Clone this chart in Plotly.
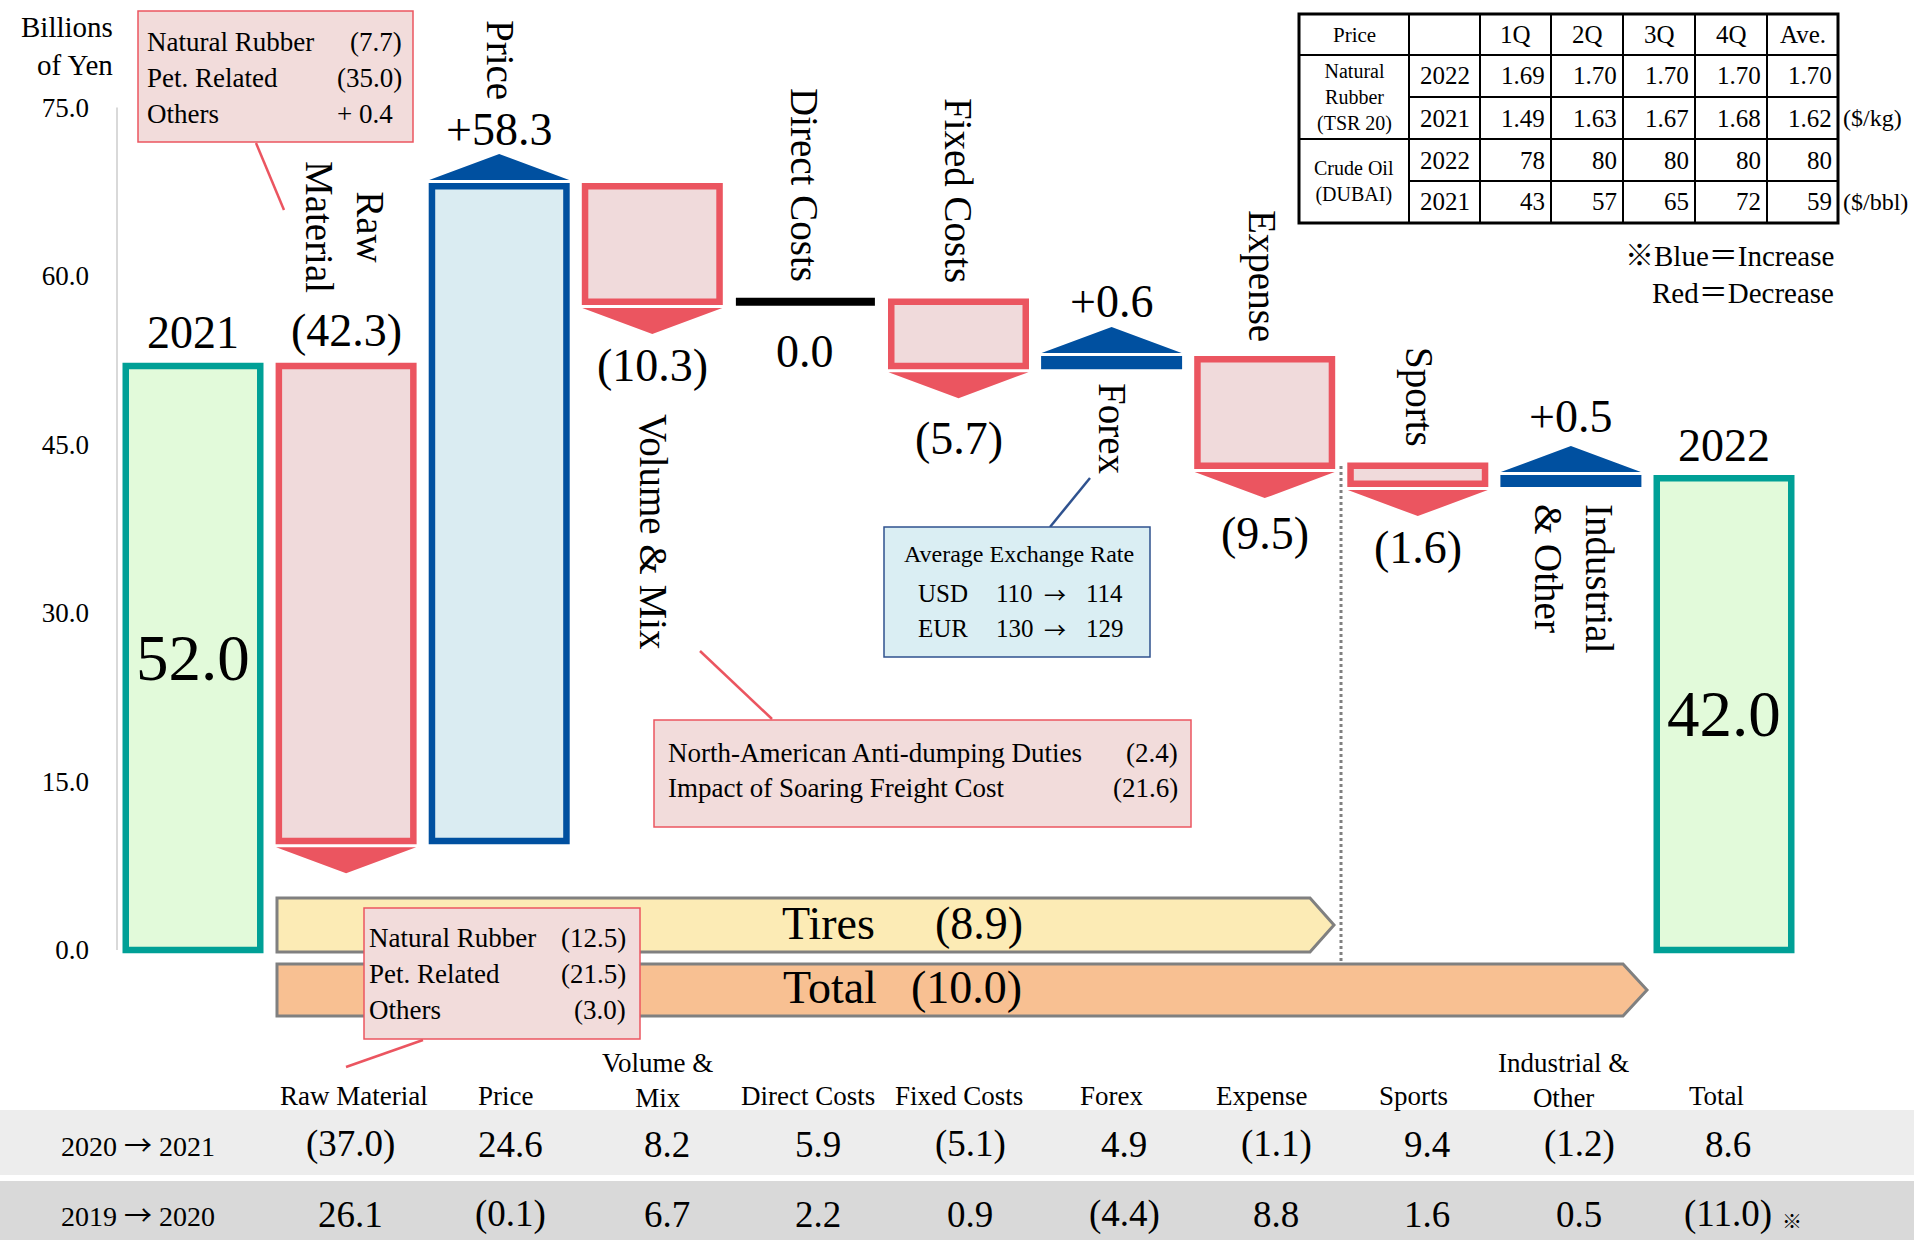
import plotly.graph_objects as go

W, H = 1914, 1240
FONT = "Liberation Serif, Times New Roman, Noto Sans CJK JP, serif"
ARROW_FONT = "Noto Sans CJK JP, Liberation Serif, serif"
ARROW = '<span style="font-family:Noto Sans CJK JP">→</span>'

# ---------------- data ----------------
categories = ["2021", "Raw Material", "Price", "Volume & Mix", "Direct Costs",
              "Fixed Costs", "Forex", "Expense", "Sports", "Industrial & Other", "2022"]
start_value = 52.0
changes = [-42.3, 58.3, -10.3, 0.0, -5.7, 0.6, -9.5, -1.6, 0.5]
tire_items = 7  # Raw Material .. Expense belong to the tire business

table_cols = ["Raw Material", "Price", "Volume &<br>Mix", "Direct Costs", "Fixed Costs",
              "Forex", "Expense", "Sports", "Industrial &<br>Other", "Total"]
row_labels = [("2020", "2021"), ("2019", "2020")]
row_2021 = [-37.0, 24.6, 8.2, 5.9, -5.1, 4.9, -1.1, 9.4, -1.2, 8.6]
row_2020 = [26.1, -0.1, 6.7, 2.2, 0.9, -4.4, 8.8, 1.6, 0.5, -11.0]

price_quarters = ["1Q", "2Q", "3Q", "4Q", "Ave."]
rubber_2022 = [1.69, 1.70, 1.70, 1.70, 1.70]
rubber_2021 = [1.49, 1.63, 1.67, 1.68, 1.62]
oil_2022 = [78, 80, 80, 80, 80]
oil_2021 = [43, 57, 65, 72, 59]

raw_items = ["Natural Rubber", "Pet. Related", "Others"]
raw_this_year = [-7.7, -35.0, 0.4]
raw_last_year = [-12.5, -21.5, -3.0]
volume_items = ["North-American Anti-dumping Duties", "Impact of Soaring Freight Cost"]
volume_values = [-2.4, -21.6]
fx_currencies = ["USD", "EUR"]
fx_before = [110, 130]
fx_after = [114, 129]

# ---------------- styling ----------------
RED, RED_FILL = "#EB5560", "#F0DADB"
BLUE, BLUE_FILL = "#0050A0", "#DAECF2"
TEAL, GREEN_FILL = "#00A096", "#E2FADA"
CALLOUT_FILL = "#F2DCDB"

X_CENTER0, X_STEP = 193.0, 153.1      # pixel centre of first bar, spacing
Y_ZERO, Y_UNIT = 950.0, 11.233         # pixel of 0.0, pixels per billion yen
BAR_W = 0.8785
LINE_W = 6.5

x_range = [-X_CENTER0 / X_STEP, (W - X_CENTER0) / X_STEP]
y_range = [-(H - Y_ZERO) / Y_UNIT, Y_ZERO / Y_UNIT]


def px(x):
    return x / W


def py(y):
    return 1 - y / H


def paren(v):
    return f"({abs(v):.1f})" if v < 0 else f"{v:.1f}"


def signed(v):
    if v < 0:
        return f"({abs(v):.1f})"
    if v > 0:
        return f"+{v:.1f}"
    return f"{v:.1f}"


# ---------------- waterfall levels ----------------
levels = [start_value]
for c in changes:
    levels.append(round(levels[-1] + c, 1))
end_value = levels[-1]
n = len(categories)

fig = go.Figure()

bx, bbase, bh, bfill, bline = [], [], [], [], []
for i in range(n):
    if i == 0 or i == n - 1:
        val = start_value if i == 0 else end_value
        bx.append(i); bbase.append(0); bh.append(val)
        bfill.append(GREEN_FILL); bline.append(TEAL)
        continue
    c = changes[i - 1]
    if c == 0:
        continue
    bx.append(i)
    bbase.append(min(levels[i - 1], levels[i]))
    bh.append(abs(c))
    edge = BLUE if c > 0 else RED
    light = BLUE_FILL if c > 0 else RED_FILL
    # bars thinner than their outline read as a solid band
    bfill.append(edge if abs(c) * Y_UNIT <= LINE_W + 1 else light)
    bline.append(edge)

fig.add_trace(go.Bar(x=bx, y=bh, base=bbase, width=BAR_W,
                     marker=dict(color=bfill, line=dict(color=bline, width=LINE_W)),
                     hoverinfo="skip"))

# flat marker for unchanged items
for i in range(1, n - 1):
    if changes[i - 1] == 0:
        fig.add_trace(go.Scatter(x=[i - 0.454, i + 0.454], y=[levels[i], levels[i]],
                                 mode="lines", line=dict(color="black", width=8),
                                 hoverinfo="skip"))

# direction arrows
half = 70.0 / X_STEP
gap = (LINE_W / 2 + 3) / Y_UNIT
tri_h = 26 / Y_UNIT
tri = {"up": ([], []), "down": ([], [])}
for i in range(1, n - 1):
    c = changes[i - 1]
    if c == 0:
        continue
    if c < 0:
        b = levels[i] - gap
        xs, ys = [i - half, i + half, i, i - half], [b, b, b - tri_h, b]
        key = "down"
    else:
        b = levels[i] + gap
        xs, ys = [i - half, i + half, i, i - half], [b, b, b + tri_h, b]
        key = "up"
    tri[key][0].extend(xs + [None])
    tri[key][1].extend(ys + [None])
for key, col in (("down", RED), ("up", BLUE)):
    fig.add_trace(go.Scatter(x=tri[key][0], y=tri[key][1], mode="lines", fill="toself",
                             fillcolor=col, line=dict(width=0, color=col), hoverinfo="skip"))

annotations = []
shapes = []


def text(x, y, s, size, xanchor="center", yanchor="middle", align="center",
         angle=0, color="black", family=FONT):
    annotations.append(dict(x=px(x), y=py(y), xref="paper", yref="paper", text=s,
                            showarrow=False, xanchor=xanchor, yanchor=yanchor,
                            align=align, textangle=angle,
                            font=dict(family=family, size=size, color=color)))


def line(x0, y0, x1, y1, color, width, dash="solid"):
    shapes.append(dict(type="line", xref="paper", yref="paper", x0=px(x0), y0=py(y0),
                       x1=px(x1), y1=py(y1), line=dict(color=color, width=width, dash=dash)))


def rect(x0, y0, x1, y1, fill, color, width):
    shapes.append(dict(type="rect", xref="paper", yref="paper", x0=px(x0), y0=py(y0),
                       x1=px(x1), y1=py(y1), fillcolor=fill,
                       line=dict(color=color, width=width)))


def poly(points, fill, color, width):
    path = "M " + " L ".join(f"{px(a):.5f},{py(b):.5f}" for a, b in points) + " Z"
    shapes.append(dict(type="path", xref="paper", yref="paper", path=path,
                       fillcolor=fill, line=dict(color=color, width=width)))


# ---------------- value labels on the waterfall ----------------
label_side = ["top", "top", "top", "bottom", "bottom", "bottom", "top", "bottom",
              "bottom", "top", "top"]
label_shift = [33, 35, 57, -64, -50, -73, 58, -68, -64, 62, 33]
for i in range(n):
    if i == 0:
        s, lv = categories[0], start_value
    elif i == n - 1:
        s, lv = categories[-1], end_value
    else:
        s = signed(changes[i - 1])
        pair = (levels[i - 1], levels[i])
        lv = max(pair) if label_side[i] == "top" else min(pair)
    annotations.append(dict(x=i, y=lv, xref="x", yref="y", text=s, showarrow=False,
                            yshift=label_shift[i], xanchor="center", yanchor="middle",
                            font=dict(family=FONT, size=46, color="black")))

for i, val in ((0, start_value), (n - 1, end_value)):
    annotations.append(dict(x=i, y=val / 2, xref="x", yref="y", text=f"{val:.1f}",
                            showarrow=False, xanchor="center", yanchor="middle",
                            font=dict(family=FONT, size=65, color="black")))

# rotated item names
rot_names = {1: "Raw<br>Material", 2: "Price", 3: "Volume & Mix", 4: "Direct Costs",
             5: "Fixed Costs", 6: "Forex", 7: "Expense", 8: "Sports",
             9: "Industrial<br>& Other"}
rot_pos = {1: (345, 227), 2: (500, 60), 3: (653, 532), 4: (804, 185), 5: (959, 191),
           6: (1113, 428), 7: (1262, 276), 8: (1419, 397), 9: (1574, 579)}
for i, s in rot_names.items():
    x, y = rot_pos[i]
    text(x, y, s, 39, angle=90, align="left" if i == 9 else "center")

# y-axis title and line
text(115, 46, "Billions<br>of Yen", 29, xanchor="right", align="right")
shapes.append(dict(type="line", xref="paper", yref="y", x0=px(117), x1=px(117),
                   y0=0, y1=75, line=dict(color="#D9D9D9", width=2)))

# ---------------- tires / total bands ----------------
tires_change = round(sum(changes[:tire_items]), 1)
total_change = round(end_value - start_value, 1)
poly([(277, 898), (1310, 898), (1334, 925), (1310, 952), (277, 952)], "#FCEBB5", "#808080", 3)
poly([(277, 964), (1623, 964), (1647, 990), (1623, 1016), (277, 1016)], "#F8C092", "#808080", 3)
text(828, 923, "Tires", 46)
text(979, 923, paren(tires_change), 46)
text(830, 987, "Total", 46)
text(967, 987, paren(total_change), 46)
line(1341, 466, 1341, 963, "#808080", 3, dash="dot")

# ---------------- callouts ----------------
# raw material, this year
line(256, 143, 284, 210, RED, 2.5)
rect(138, 11, 413, 142, CALLOUT_FILL, RED, 1.5)
for k, (name, v) in enumerate(zip(raw_items, raw_this_year)):
    y = 42 + 36 * k
    text(145, y, name, 27, xanchor="left")
    if v < 0:
        text(404, y, paren(v), 27, xanchor="right")
    else:
        text(395, y, f"+ {v:.1f}", 27, xanchor="right")

# volume & mix
line(700, 651, 772, 719, RED, 2.5)
rect(654, 720, 1191, 827, CALLOUT_FILL, RED, 1.5)
for k, (name, v) in enumerate(zip(volume_items, volume_values)):
    y = 753 + 35 * k
    text(666, y, name, 27, xanchor="left")
    text(1180, y, paren(v), 27, xanchor="right")

# forex
line(1090, 478, 1050, 527, "#2F528F", 2.5)
rect(884, 527, 1150, 657, "#DAEEF3", "#2F528F", 1.5)
text(1019, 554, "Average Exchange Rate", 24)
for k, (cur, a, b) in enumerate(zip(fx_currencies, fx_before, fx_after)):
    y = 593 + 35 * k
    text(916, y, cur, 25, xanchor="left")
    text(994, y, f"{a}", 25, xanchor="left")
    text(1055, y, "→", 22, family=ARROW_FONT)
    text(1084, y, f"{b}", 25, xanchor="left")

# raw material, previous year (drawn over the bands)
line(423, 1040, 346, 1067, RED, 2.5)
rect(364, 908, 640, 1039, CALLOUT_FILL, RED, 1.5)
for k, (name, v) in enumerate(zip(raw_items, raw_last_year)):
    y = 938 + 36 * k
    text(367, y, name, 27, xanchor="left")
    text(628, y, paren(v), 27, xanchor="right")

# ---------------- price table ----------------
col_x = [1299, 1409, 1480, 1551, 1623, 1695, 1767, 1838]
row_y = [14, 55, 97, 139, 181, 223]
for x in col_x[1:-1]:
    line(x, row_y[0], x, row_y[-1], "black", 2)
line(col_x[0], row_y[1], col_x[-1], row_y[1], "black", 2)
line(col_x[0], row_y[3], col_x[-1], row_y[3], "black", 2)
line(col_x[1], row_y[2], col_x[-1], row_y[2], "black", 2)
line(col_x[1], row_y[4], col_x[-1], row_y[4], "black", 2)
rect(col_x[0], row_y[0], col_x[-1], row_y[-1], "rgba(0,0,0,0)", "black", 3)

text((col_x[0] + col_x[1]) / 2, 35, "Price", 21)
for j, q in enumerate(price_quarters):
    text((col_x[j + 2] + col_x[j + 3]) / 2, 35, q, 25)
text((col_x[0] + col_x[1]) / 2, 98, "Natural<br>Rubber<br>(TSR 20)", 20)
text((col_x[0] + col_x[1]) / 2, 181, "Crude Oil<br>(DUBAI)", 20)
table_rows = [("2022", rubber_2022, "{:.2f}"), ("2021", rubber_2021, "{:.2f}"),
              ("2022", oil_2022, "{:d}"), ("2021", oil_2021, "{:d}")]
for r, (yr, vals, fmt) in enumerate(table_rows):
    yc = (row_y[r + 1] + row_y[r + 2]) / 2
    text((col_x[1] + col_x[2]) / 2, yc, yr, 25)
    for j, v in enumerate(vals):
        text(col_x[j + 3] - 4, yc, fmt.format(v), 25, xanchor="right")
text(1841, 118, "($/kg)", 24, xanchor="left")
text(1841, 202, "($/bbl)", 24, xanchor="left")

text(1836, 256, "※Blue＝Increase", 29, xanchor="right")
text(1836, 293, "Red＝Decrease", 29, xanchor="right")

# ---------------- prior-year comparison table ----------------
rect(0, 1110, W, 1175, "#EDEDED", "rgba(0,0,0,0)", 0)
rect(0, 1181, W, 1240, "#D9D9D9", "rgba(0,0,0,0)", 0)
head_x = [354, 505, 657, 808, 959, 1111, 1261, 1413, 1563, 1716]
val_x = [350, 510, 667, 818, 970, 1124, 1276, 1427, 1579, 1728]
for hx, lab in zip(head_x, table_cols):
    two = "<br>" in lab
    text(hx, 1080 if two else 1096, lab, 27)
for ry, (y_from, y_to), vals in ((1144, row_labels[0], row_2021),
                                 (1214, row_labels[1], row_2020)):
    text(138, ry, f"{y_from} {ARROW} {y_to}", 28)
    for vx, v in zip(val_x, vals):
        text(vx, ry, paren(v), 37)
text(1792, 1222, "※", 20)

fig.update_layout(
    width=W, height=H, template="none",
    margin=dict(l=0, r=0, t=0, b=0, pad=0),
    paper_bgcolor="white", plot_bgcolor="rgba(0,0,0,0)",
    showlegend=False, hovermode=False, barmode="overlay",
    xaxis=dict(range=x_range, visible=False, fixedrange=True),
    yaxis=dict(range=y_range, tickvals=[0, 15, 30, 45, 60, 75], tickformat=".1f",
               showgrid=False, zeroline=False, showline=False, ticks="",
               anchor="free", position=px(117), automargin=False,
               ticklabelstandoff=28, fixedrange=True,
               tickfont=dict(family=FONT, size=27, color="black")),
    shapes=shapes, annotations=annotations,
)

fig.write_html("out.html")
